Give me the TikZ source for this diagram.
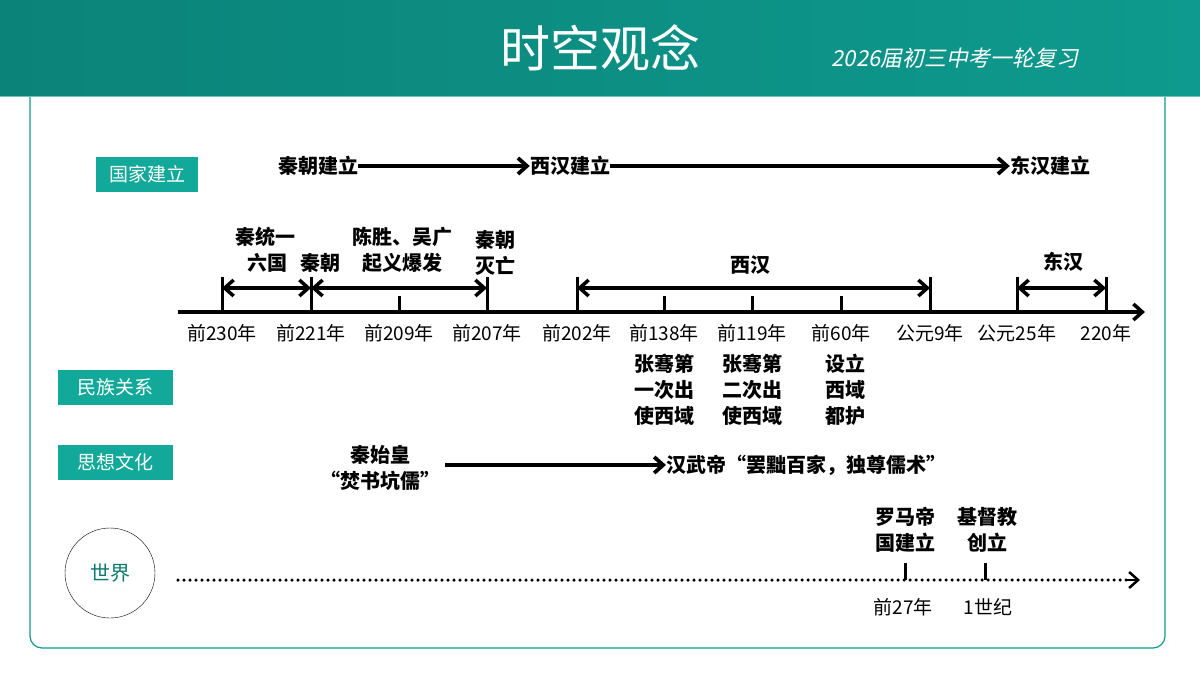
\documentclass[tikz,border=0pt]{standalone}
\usepackage{fontspec}
\setmainfont{Noto Sans CJK SC}
\newfontfamily\slantcjk[FakeSlant=0.2]{Noto Sans CJK SC}
\usetikzlibrary{arrows.meta}
\definecolor{teal1}{HTML}{0E9A8E}
\definecolor{teal2}{HTML}{12A89A}
\begin{document}
\begin{tikzpicture}[x=1pt,y=-1pt,
  txt/.style={font=\fontsize{20}{21}\selectfont\bfseries, inner sep=0pt, align=center},
  lbl/.style={fill=teal2, text=white, font=\fontsize{19}{20}\selectfont, minimum height=35pt, inner sep=0pt},
  tick/.style={line width=3pt},
  arr/.style={line width=3.8pt,-{Straight Barb[length=9pt,width=16pt]}},
  darr/.style={line width=3.5pt,{Straight Barb[length=9pt,width=16pt]}-{Straight Barb[length=9pt,width=16pt]}},
  ylab/.style={font=\fontsize{19}{20}\selectfont, inner sep=0pt}]
\useasboundingbox (0,0) rectangle (1200,675);
\fill[white] (0,0) rectangle (1200,675);
\draw[teal1, line width=1.2pt, rounded corners=12pt] (30,80) rectangle (1165,648);
\shade[left color=teal1!85!black, right color=teal1] (0,0) rectangle (1200,96);
\draw[teal1!60, line width=1pt] (0,96) -- (1200,96);
\node[text=white, font=\fontsize{50}{52}\selectfont] (title) at (600,48) {时空观念};
\node[text=white, font=\fontsize{22}{24}\slantcjk] (sub) at (955,58) {2026届初三中考一轮复习};
% labels
\node[lbl, minimum width=102pt] (l1) at (147,174) {国家建立};
\node[lbl, minimum width=115pt] (l2) at (115,387) {民族关系};
\node[lbl, minimum width=115pt] (l3) at (115,462) {思想文化};
\node[draw, circle, minimum size=90pt, text=teal1!80!black, font=\fontsize{20}{20}\selectfont] (l4) at (110,573) {世界};
% row 1
\node[txt] (qin) at (318,166) {秦朝建立};
\node[txt] (xh) at (570,166) {西汉建立};
\node[txt] (dh) at (1050,166) {东汉建立};
\draw[arr] (qin) -- (xh);
\draw[arr] (xh) -- (dh);
% main timeline
\coordinate (ts) at (178,312); \coordinate (te) at (1145,312);
\draw[line width=3.5pt,-{Straight Barb[length=9pt,width=16pt]}] (ts) -- (te);
\foreach \x/\t in {222/前230年,311/前221年,487/前207年,577/前202年,930/公元9年,1017/公元25年,1106/220年}{
  \draw[tick] (\x,312) -- (\x,277);
  \node[ylab] at (\x,333) {\t};}
\foreach \x/\t in {399/前209年,664/前138年,752/前119年,841/前60年}{
  \draw[tick] (\x,312) -- (\x,296);
  \node[ylab] at (\x,333) {\t};}
\coordinate (a1) at (222,288); \coordinate (a2) at (311,288); \coordinate (a3) at (487,288);
\coordinate (a4) at (577,288); \coordinate (a5) at (930,288);
\coordinate (a6) at (1017,288); \coordinate (a7) at (1106,288);
\draw[darr] (a1) -- (a2);
\draw[darr] (a2) -- (a3);
\draw[darr] (a4) -- (a5);
\draw[darr] (a6) -- (a7);
\node[txt] at (265,250) {秦统一\\[5pt]\ 六国};
\node[txt] at (320,263) {秦朝};
\node[txt] at (402,250) {陈胜、吴广\\[5pt]起义爆发};
\node[txt] at (495,253) {秦朝\\[5pt]灭亡};
\node[txt] at (750,265) {西汉};
\node[txt] at (1063,262) {东汉};
\node[txt, anchor=north] at (664,354) {张骞第\\[5pt]一次出\\[5pt]使西域};
\node[txt, anchor=north] at (752,354) {张骞第\\[5pt]二次出\\[5pt]使西域};
\node[txt, anchor=north] at (845,354) {设立\\[5pt]西域\\[5pt]都护};
% thought
\node[txt] (fs) at (380,468) {秦始皇\\[5pt]“焚书坑儒”};
\node[txt, anchor=west] (hw) at (666,465) {汉武帝“罢黜百家，独尊儒术”};
\coordinate (f1) at (445,465);
\draw[arr] (f1) -- (hw.west);
% world
\coordinate (ws) at (178,580); \coordinate (we) at (1140,580);
\draw[line width=3.5pt, dash pattern=on 0pt off 6pt, line cap=round] (ws) -- (1128,580);
\draw[line width=2.5pt,-{Straight Barb[length=9pt,width=16pt]}] (1126,580) -- (we);
\draw[tick] (905,580) -- (905,563);
\draw[tick] (985,580) -- (985,563);
\node[txt] at (905,530) {罗马帝\\[5pt]国建立};
\node[txt] at (987,530) {基督教\\[5pt]创立};
\node[ylab] at (903,607) {前27年};
\node[ylab] at (988,607) {1世纪};
\end{tikzpicture}
\end{document}
